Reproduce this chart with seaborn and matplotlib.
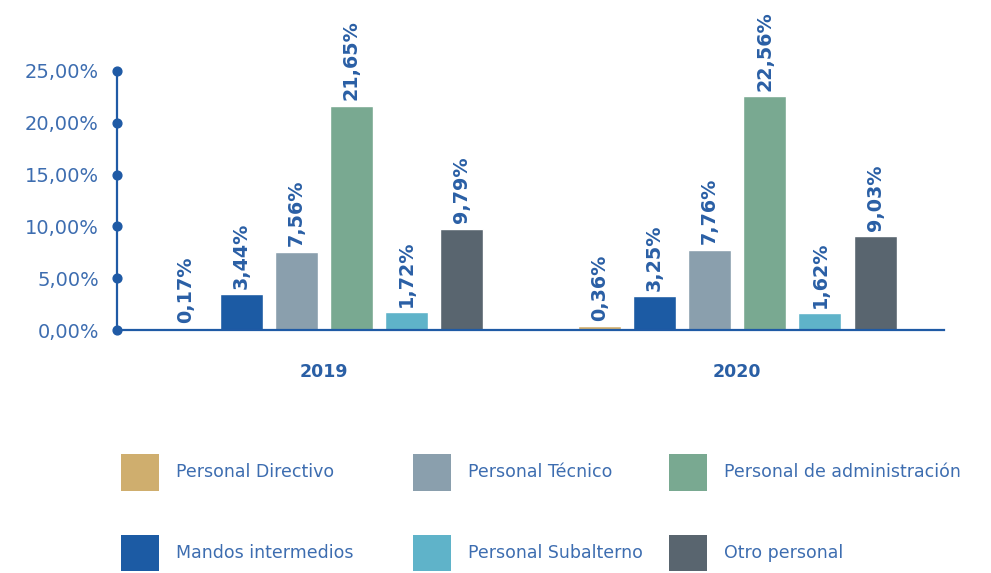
import matplotlib
matplotlib.use("Agg")
import matplotlib.pyplot as plt
from matplotlib.patches import Patch
import seaborn as sns
import pandas as pd

# Plantilla por categoría profesional (% sobre el total)
anios = ["2019", "2020"]
categorias = [
    "Personal Directivo",
    "Mandos intermedios",
    "Personal Técnico",
    "Personal de administración",
    "Personal Subalterno",
    "Otro personal",
]
valores_2019 = [0.17, 3.44, 7.56, 21.65, 1.72, 9.79]
valores_2020 = [0.36, 3.25, 7.76, 22.56, 1.62, 9.03]
colores = ["#cfae6e", "#1c5ba4", "#8a9fad", "#79a991", "#5fb3c9", "#59656f"]
yticks = [0, 5, 10, 15, 20, 25]

AZUL = "#1f5aa5"
AZUL_TEXTO = "#3d6db0"

df = pd.DataFrame({
    "Año": [a for a, vals in zip(anios, [valores_2019, valores_2020]) for _ in vals],
    "Categoría": categorias * 2,
    "Valor": valores_2019 + valores_2020,
})

sns.set_theme(style="white")
plt.rcParams["font.family"] = ["DejaVu Sans"]

fig = plt.figure(figsize=(9.91, 5.73), dpi=100)
ax = fig.add_axes([117 / 991, 243 / 573, (944 - 117) / 991, (330 - 71) / 573])

sns.barplot(
    data=df, x="Año", y="Valor", hue="Categoría", hue_order=categorias,
    palette=colores, saturation=1, width=0.8, gap=0.22, ax=ax, legend=False,
)

# Etiquetas de valor verticales sobre cada barra
for cont, cat in zip(ax.containers, categorias):
    vals = df[df["Categoría"] == cat]["Valor"].tolist()
    ax.bar_label(
        cont, labels=[f"{v:.2f}".replace(".", ",") + "%" for v in vals],
        rotation=90, padding=4, color="#2a5fa5", fontsize=13.8,
        fontweight="bold",
    )

ax.set_xlim(-0.5, 1.5)
ax.set_ylim(0, 25)
ax.set_yticks(yticks)
ax.set_yticklabels([f"{v:.2f}".replace(".", ",") + "%" for v in yticks])
ax.set_xlabel("")
ax.set_ylabel("")

for side in ("top", "right"):
    ax.spines[side].set_visible(False)
for side in ("left", "bottom"):
    ax.spines[side].set_color(AZUL)
    ax.spines[side].set_linewidth(1.6)

ax.tick_params(axis="y", length=0, pad=13, labelsize=14, labelcolor=AZUL_TEXTO)
ax.tick_params(axis="x", length=0, pad=24, labelsize=12.5, labelcolor="#2a5fa5")
for lbl in ax.get_xticklabels():
    lbl.set_fontweight("bold")

# Puntos sobre el eje vertical en cada marca
ax.scatter([0] * len(yticks), yticks, s=40, color=AZUL, zorder=5,
           clip_on=False, transform=ax.get_yaxis_transform())

# Leyenda en tres columnas
fs = 12.5
fs_px = fs * 100 / 72
cols = [(121, [0, 1]), (413, [2, 4]), (669, [3, 5])]
for x0, idx in cols:
    handles = [Patch(facecolor=colores[i], edgecolor="none") for i in idx]
    labels = [categorias[i] for i in idx]
    fig.legend(
        handles, labels, loc="upper left",
        bbox_to_anchor=(x0 / 991, 1 - 454 / 573),
        frameon=False, fontsize=fs, borderpad=0, borderaxespad=0,
        handlelength=38 / fs_px, handleheight=38 / fs_px * 38 / 29,
        handletextpad=17 / fs_px, labelspacing=44 / fs_px,
        labelcolor=AZUL_TEXTO,
    )

fig.savefig("out.png", dpi=100)
